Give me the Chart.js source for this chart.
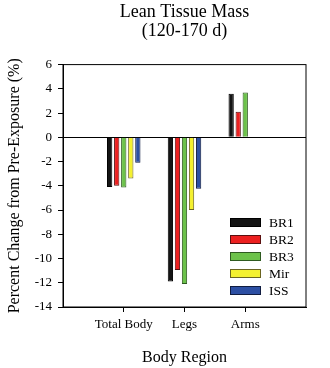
<!DOCTYPE html>
<html>
  <head>
    <title>Lean Tissue Mass</title>
    <style>
      body { margin: 0; background: #fff; }
    </style>
  </head>
  <body>
    <canvas id="chart" width="330" height="368"></canvas>
    <script src="https://cdn.jsdelivr.net/npm/chart.js@4.4.1/dist/chart.umd.min.js"></script>
    <script>
      // body regions (blank slots at both ends keep the groups at 1/4, 2/4, 3/4 of the axis)
      const regions = ['', 'Total Body', 'Legs', 'Arms', ''];
      const br1 = [null, -4.1, -11.9, 3.6, null];
      const br2 = [null, -4.0, -10.95, 2.1, null];
      const br3 = [null, -4.15, -12.1, 3.7, null];
      const mir = [null, -3.4, -6.0, null, null];
      const iss = [null, -2.1, -4.25, null, null];
      const seriesNames = ['BR1', 'BR2', 'BR3', 'Mir', 'ISS'];
      const seriesData = [br1, br2, br3, mir, iss];
      const colors = ['#141414', '#ec2020', '#6cc24a', '#f4f030', '#2c4fa3'];
      const edges = ['#000', '#5a1010', '#2e5a20', '#6a6420', '#101c40'];

      const serif = 'Liberation Serif, Times New Roman, serif';

      const frame = {
        id: 'frame',
        afterDraw(chart) {
          const { ctx, chartArea: a } = chart;
          ctx.save();
          ctx.strokeStyle = '#000';
          ctx.lineWidth = 1;
          ctx.strokeRect(a.left, a.top, a.right - a.left, a.bottom - a.top);
          // legend, bottom right inside the plot
          ctx.font = '13.5px ' + serif;
          ctx.textBaseline = 'middle';
          chart.data.datasets.forEach((ds, i) => {
            const y = a.bottom - 16.5 - (chart.data.datasets.length - 1 - i) * 17;
            const x = a.right - 76;
            ctx.fillStyle = ds.backgroundColor;
            ctx.fillRect(x, y - 4.5, 31, 9);
            ctx.strokeStyle = ds.borderColor;
            ctx.strokeRect(x + 0.5, y - 4, 30, 8);
            ctx.fillStyle = '#000';
            ctx.fillText(ds.label, x + 39, y + 1);
          });
          ctx.restore();
        }
      };

      new Chart(document.getElementById('chart'), {
        type: 'bar',
        data: {
          labels: regions,
          datasets: seriesNames.map((name, i) => ({
            label: name,
            data: seriesData[i],
            backgroundColor: colors[i],
            borderColor: edges[i],
            borderWidth: 1,
            categoryPercentage: 0.58,
            barPercentage: 0.75
          }))
        },
        options: {
          responsive: false,
          animation: false,
          layout: { padding: { left: 0, right: 24, top: 0, bottom: 0 } },
          plugins: {
            legend: { display: false },
            tooltip: { enabled: false },
            title: {
              display: true,
              fullSize: false,
              text: ['Lean Tissue Mass', '(120-170 d)'],
              color: '#000',
              font: { family: serif, size: 18, weight: 'normal', lineHeight: 1.1 },
              padding: { top: 2, bottom: 23 }
            }
          },
          scales: {
            x: {
              offset: false,
              afterFit(scale) { scale.height = 61; },
              grid: {
                offset: false,
                drawOnChartArea: false,
                tickLength: 5,
                tickColor: ctx => (ctx.index === 0 || ctx.index === regions.length - 1) ? 'rgba(0,0,0,0)' : '#000'
              },
              border: { display: true, color: '#000', width: 1 },
              ticks: {
                color: '#000',
                padding: 5,
                maxRotation: 0,
                autoSkip: false,
                font: { family: serif, size: 13 }
              },
              title: {
                display: true,
                text: 'Body Region',
                color: '#000',
                font: { family: serif, size: 16 },
                padding: { top: 0, bottom: 1 }
              }
            },
            y: {
              min: -14,
              max: 6,
              afterFit(scale) { scale.width = 63; },
              grid: {
                drawOnChartArea: true,
                color: ctx => ctx.tick && ctx.tick.value === 0 ? '#000' : 'rgba(0,0,0,0)',
                tickColor: '#000',
                tickLength: 5
              },
              border: { display: true, color: '#000', width: 1 },
              ticks: {
                stepSize: 2,
                color: '#000',
                padding: 6,
                font: { family: serif, size: 13 }
              },
              title: {
                display: true,
                text: 'Percent Change from Pre-Exposure (%)',
                color: '#000',
                font: { family: serif, size: 16 },
                padding: { top: 5, bottom: 0 }
              }
            }
          }
        },
        plugins: [frame]
      });
    </script>
  </body>
</html>
